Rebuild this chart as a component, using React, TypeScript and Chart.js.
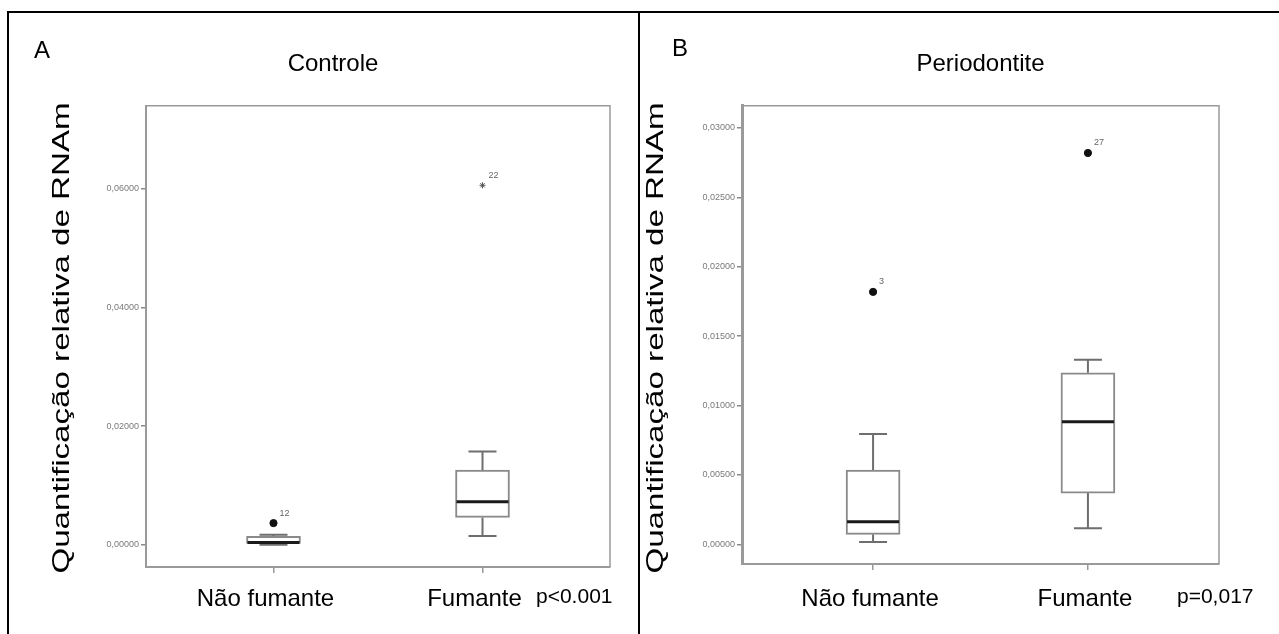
import React, { useEffect, useRef } from 'react';
import { Chart, registerables } from 'chart.js';

Chart.register(...registerables);

const FONT = "'Liberation Sans', Arial, Helvetica, sans-serif";

const categories = ['Não fumante', 'Fumante'];

// Panel A – Controle
const controleMin = [0.0, 0.00146];
const controleQ1 = [0.00024, 0.00461];
const controleMedian = [0.0004, 0.00724];
const controleQ3 = [0.00141, 0.01258];
const controleMax = [0.0017, 0.01572];
const controleOutlierGroup = [0, 1];
const controleOutlierValue = [0.00365, 0.0606];
const controleOutlierCase = ['12', '22'];
const controleOutlierExtreme = [false, true];
const controleTicks = [0, 0.02, 0.04, 0.06];

// Panel B – Periodontite
const perioMin = [0.00017, 0.00116];
const perioQ1 = [0.00072, 0.00369];
const perioMedian = [0.00163, 0.00884];
const perioQ3 = [0.00535, 0.01236];
const perioMax = [0.00795, 0.0133];
const perioOutlierGroup = [0, 1];
const perioOutlierValue = [0.01819, 0.0282];
const perioOutlierCase = ['3', '27'];
const perioOutlierExtreme = [false, false];
const perioTicks = [0, 0.005, 0.01, 0.015, 0.02, 0.025, 0.03];

const yTitleText = 'Quantificação relativa de RNAm';

type Panel = {
  title: string;
  letter: string;
  pText: string;
  min: number[];
  q1: number[];
  med: number[];
  q3: number[];
  max: number[];
  oGroup: number[];
  oValue: number[];
  oCase: string[];
  oExtreme: boolean[];
  ticks: number[];
  yMin: number;
  yMax: number;
  left: number;
  width: number;
  padLeft: number;
  padRight: number;
  yAxisWidth: number;
  xAxisHeight: number;
  titleFullSize: boolean;
  tickPadX: number;
  labelOffset: number;
  yBorderWidth: number;
  yTitleX: number;
  yTitleY: number;
  letterX: number;
  letterY: number;
  pX: number;
  pY: number;
};

const panels: Panel[] = [
  {
    title: 'Controle', letter: 'A', pText: 'p<0.001',
    min: controleMin, q1: controleQ1, med: controleMedian, q3: controleQ3, max: controleMax,
    oGroup: controleOutlierGroup, oValue: controleOutlierValue, oCase: controleOutlierCase, oExtreme: controleOutlierExtreme,
    ticks: controleTicks, yMin: -0.00375, yMax: 0.074,
    left: 0, width: 638, padLeft: 56, padRight: 28, yAxisWidth: 90, xAxisHeight: 67,
    titleFullSize: true, tickPadX: 12, labelOffset: -8, yBorderWidth: 2,
    yTitleX: 62, yTitleY: 338, letterX: 34, letterY: 51, pX: 536, pY: 597,
  },
  {
    title: 'Periodontite', letter: 'B', pText: 'p=0,017',
    min: perioMin, q1: perioQ1, med: perioMedian, q3: perioQ3, max: perioMax,
    oGroup: perioOutlierGroup, oValue: perioOutlierValue, oCase: perioOutlierCase, oExtreme: perioOutlierExtreme,
    ticks: perioTicks, yMin: -0.00142, yMax: 0.0316,
    left: 640, width: 639, padLeft: 40, padRight: 60, yAxisWidth: 62, xAxisHeight: 70,
    titleFullSize: false, tickPadX: 15, labelOffset: -3, yBorderWidth: 3,
    yTitleX: 16, yTitleY: 338, letterX: 32, letterY: 49, pX: 537, pY: 597,
  },
];

function makePlugin(p: Panel) {
  return {
    id: 'spssBoxplot',
    beforeDatasetsDraw(chart: any) {
      const { ctx, chartArea: a } = chart;
      const xs = chart.scales.x;
      const ys = chart.scales.y;
      ctx.save();
      // remaining frame sides
      ctx.strokeStyle = '#9a9a9a';
      ctx.lineWidth = 1.5;
      ctx.beginPath();
      ctx.moveTo(a.left, a.top);
      ctx.lineTo(a.right, a.top);
      ctx.lineTo(a.right, a.bottom);
      ctx.stroke();
      // whiskers and caps
      ctx.strokeStyle = '#6e6e6e';
      ctx.lineWidth = 2;
      categories.forEach((_, i) => {
        const x = xs.getPixelForValue(i);
        const yq1 = ys.getPixelForValue(p.q1[i]);
        const yq3 = ys.getPixelForValue(p.q3[i]);
        const ymn = ys.getPixelForValue(p.min[i]);
        const ymx = ys.getPixelForValue(p.max[i]);
        ctx.beginPath();
        ctx.moveTo(x, yq3);
        ctx.lineTo(x, ymx);
        ctx.moveTo(x, yq1);
        ctx.lineTo(x, ymn);
        ctx.moveTo(x - 14, ymx);
        ctx.lineTo(x + 14, ymx);
        ctx.moveTo(x - 14, ymn);
        ctx.lineTo(x + 14, ymn);
        ctx.stroke();
      });
      ctx.restore();
    },
    afterDatasetsDraw(chart: any) {
      const { ctx } = chart;
      const xs = chart.scales.x;
      const ys = chart.scales.y;
      ctx.save();
      ctx.strokeStyle = '#1a1a1a';
      ctx.lineWidth = 3;
      categories.forEach((_, i) => {
        const x = xs.getPixelForValue(i);
        const y = ys.getPixelForValue(p.med[i]);
        ctx.beginPath();
        ctx.moveTo(x - 26, y);
        ctx.lineTo(x + 26, y);
        ctx.stroke();
      });
      ctx.fillStyle = '#666';
      ctx.font = `9px ${FONT}`;
      ctx.textAlign = 'left';
      ctx.textBaseline = 'middle';
      p.oGroup.forEach((g, i) => {
        const x = xs.getPixelForValue(g);
        const y = ys.getPixelForValue(p.oValue[i]);
        ctx.fillText(p.oCase[i], x + 6, y - 10);
      });
      ctx.restore();
    },
    afterDraw(chart: any) {
      const { ctx } = chart;
      ctx.save();
      // y axis title (stretched along its length like the pasted figure)
      ctx.fillStyle = '#000';
      ctx.font = `24px ${FONT}`;
      ctx.textAlign = 'center';
      ctx.textBaseline = 'middle';
      ctx.translate(p.yTitleX, p.yTitleY);
      ctx.rotate(-Math.PI / 2);
      ctx.scale(1.38, 1);
      ctx.fillText(yTitleText, 0, 0);
      ctx.restore();
      ctx.save();
      ctx.fillStyle = '#000';
      ctx.textAlign = 'left';
      ctx.textBaseline = 'middle';
      ctx.font = `24px ${FONT}`;
      ctx.fillText(p.letter, p.letterX, p.letterY);
      ctx.font = `21px ${FONT}`;
      ctx.fillText(p.pText, p.pX, p.pY);
      ctx.restore();
    },
  };
}

function buildConfig(p: Panel): any {
  return {
    type: 'bar',
    data: {
      datasets: [
        {
          type: 'bar',
          data: categories.map((_, i) => ({ x: i, y: [p.q1[i], p.q3[i]] })),
          backgroundColor: '#ffffff',
          borderColor: '#8a8a8a',
          borderWidth: 2,
          borderSkipped: false,
          barThickness: 54,
        },
        {
          type: 'scatter',
          data: p.oGroup.map((g, i) => ({ x: g, y: p.oValue[i] })),
          pointStyle: p.oExtreme.map((e) => (e ? 'star' : 'circle')),
          pointRadius: p.oExtreme.map((e) => (e ? 3 : 3.6)),
          backgroundColor: '#111',
          borderColor: p.oExtreme.map((e) => (e ? '#555' : '#111')),
          borderWidth: 1,
        },
      ],
    },
    options: {
      responsive: false,
      animation: false,
      events: [],
      layout: { padding: { left: p.padLeft, right: p.padRight, top: 0, bottom: 0 } },
      plugins: {
        legend: { display: false },
        tooltip: { enabled: false },
        title: {
          display: true,
          text: p.title,
          fullSize: p.titleFullSize,
          color: '#000',
          font: { family: FONT, size: 24, weight: 'normal', lineHeight: 1.2 },
          padding: { top: 50, bottom: 27 },
        },
      },
      scales: {
        x: {
          type: 'linear',
          min: -0.61,
          max: 1.61,
          offset: false,
          afterBuildTicks: (s: any) => {
            s.ticks = categories.map((_, i) => ({ value: i }));
          },
          afterFit: (s: any) => {
            s.height = p.xAxisHeight;
          },
          ticks: {
            autoSkip: false,
            maxRotation: 0,
            padding: p.tickPadX,
            labelOffset: p.labelOffset,
            color: '#000',
            font: { family: FONT, size: 24 },
            callback: (v: any) => categories[v] ?? '',
          },
          grid: { offset: false, drawOnChartArea: false, tickLength: 6, color: '#999', lineWidth: 1.5 },
          border: { color: '#9a9a9a', width: 2 },
        },
        y: {
          min: p.yMin,
          max: p.yMax,
          afterBuildTicks: (s: any) => {
            s.ticks = p.ticks.map((v) => ({ value: v }));
          },
          afterFit: (s: any) => {
            s.width = p.yAxisWidth;
          },
          ticks: {
            padding: 2,
            color: '#7a7a7a',
            font: { family: FONT, size: 9 },
            callback: (v: any) => Number(v).toFixed(5).replace('.', ','),
          },
          grid: { drawOnChartArea: false, tickLength: 5, color: '#8a8a8a', lineWidth: 1.5 },
          border: { color: '#9a9a9a', width: p.yBorderWidth },
        },
      },
    },
    plugins: [makePlugin(p)],
  };
}

function PanelChart({ p }: { p: Panel }) {
  const ref = useRef<HTMLCanvasElement | null>(null);
  useEffect(() => {
    if (!ref.current) return;
    const chart = new Chart(ref.current, buildConfig(p));
    return () => chart.destroy();
  }, [p]);
  return (
    <canvas
      ref={ref}
      width={p.width}
      height={634}
      style={{ position: 'absolute', left: p.left, top: 0, width: p.width, height: 634 }}
    />
  );
}

export default function App() {
  const line = (s: React.CSSProperties) => (
    <div style={{ position: 'absolute', background: '#000', ...s }} />
  );
  return (
    <div style={{ position: 'fixed', left: 0, top: 0, width: 1279, height: 634, background: '#fff', overflow: 'hidden' }}>
      {panels.map((p) => (
        <PanelChart key={p.letter} p={p} />
      ))}
      {line({ left: 7, top: 11, width: 1272, height: 2 })}
      {line({ left: 7, top: 11, width: 2, height: 623 })}
      {line({ left: 638, top: 11, width: 2, height: 623 })}
    </div>
  );
}
